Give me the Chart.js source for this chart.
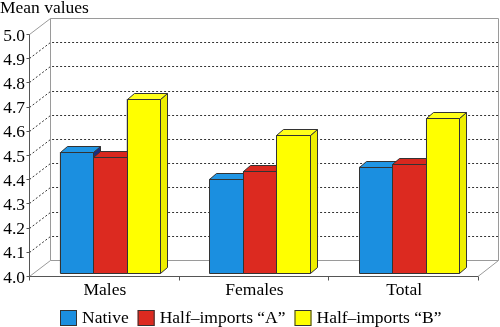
<!DOCTYPE html>
<html>
<head>
<meta charset="utf-8">
<script src="https://cdn.jsdelivr.net/npm/chart.js@4.4.0/dist/chart.umd.min.js"></script>
<style>
  html, body { margin: 0; padding: 0; background: #fff; }
  #wrap { width: 500px; height: 327px; }
</style>
</head>
<body>
<div id="wrap"><canvas id="chart" width="500" height="327"></canvas></div>
<script>
// data
const categories = ['Males', 'Females', 'Total'];
const seriesNames = ['Native', 'Half–imports “A”', 'Half–imports “B”'];
const nativeValues = [4.50, 4.39, 4.44];
const halfImportsA = [4.48, 4.42, 4.45];
const halfImportsB = [4.72, 4.57, 4.64];
const yTicks = [4.0, 4.1, 4.2, 4.3, 4.4, 4.5, 4.6, 4.7, 4.8, 4.9, 5.0];

const FONT = "'Liberation Serif', 'Times New Roman', serif";
const FRONT = { dx: -6, dy: 3 };   // front edge of the box, relative to bar plane
const BACK = { dx: 15, dy: -13 };  // back wall, relative to bar plane
const DEPTH = { dx: 7, dy: -6 };   // bar depth

const faces = [
    { front: '#1b8fe0', top: '#2196e4', side: '#1b2d80' },
    { front: '#dc2a20', top: '#d8281e', side: '#9e1a14' },
    { front: '#ffff00', top: '#ffff1a', side: '#eeee00' }
];

// walls, floor and grid of the fake 3d box
const box3d = {
    id: 'box3d',
    beforeDatasetsDraw(chart) {
        const { ctx, chartArea: a, scales: { x, y } } = chart;
        const y0 = y.getPixelForValue(yTicks[0]);
        const y1 = y.getPixelForValue(yTicks[yTicks.length - 1]);
        ctx.save();
        ctx.lineWidth = 1;

        // dotted gridlines (back wall + left wall)
        ctx.strokeStyle = '#333';
        ctx.setLineDash([2, 2]);
        yTicks.slice(1, -1).forEach(v => {
            const py = Math.round(y.getPixelForValue(v)) + 0.5;
            ctx.beginPath();
            ctx.moveTo(a.left + FRONT.dx + 0.5, py + FRONT.dy);
            ctx.lineTo(a.left + BACK.dx + 0.5, py + BACK.dy);
            ctx.lineTo(a.right + BACK.dx, py + BACK.dy);
            ctx.stroke();
        });
        ctx.setLineDash([]);

        // back wall + floor outlines
        ctx.strokeStyle = '#9a9a9a';
        const bl = a.left + BACK.dx + 0.5, br = a.right + BACK.dx - 0.5;
        const bt = Math.round(y1) + BACK.dy + 0.5, bb = Math.round(y0) + BACK.dy + 0.5;
        const fl = a.left + FRONT.dx + 0.5, fr = a.right + FRONT.dx;
        const ft = Math.round(y1) + FRONT.dy + 0.5, fb = Math.round(y0) + FRONT.dy + 0.5;
        ctx.beginPath();
        ctx.moveTo(fl, ft); ctx.lineTo(bl, bt); ctx.lineTo(br, bt); ctx.lineTo(br, bb);
        ctx.moveTo(bl, bt); ctx.lineTo(bl, bb); ctx.lineTo(br, bb); ctx.lineTo(fr, fb);
        ctx.moveTo(fl, fb); ctx.lineTo(bl, bb);
        ctx.stroke();

        // front axis lines
        ctx.strokeStyle = '#555';
        ctx.beginPath();
        ctx.moveTo(fl, ft); ctx.lineTo(fl, fb); ctx.lineTo(fr, fb);
        yTicks.forEach(v => {
            const py = Math.round(y.getPixelForValue(v)) + FRONT.dy + 0.5;
            ctx.moveTo(fl - 3, py); ctx.lineTo(fl, py);
        });
        const w = (a.right - a.left) / categories.length;
        for (let k = 0; k <= categories.length; k++) {
            const px = Math.round(a.left + k * w + FRONT.dx) + 0.5;
            ctx.moveTo(px, fb); ctx.lineTo(px, fb + 4);
        }
        ctx.stroke();
        ctx.restore();
    },
    afterDatasetsDraw(chart) {
        const { ctx } = chart;
        ctx.save();
        ctx.lineWidth = 1;
        ctx.strokeStyle = '#333';
        ctx.lineJoin = 'round';
        const poly = (pts, fill) => {
            ctx.beginPath();
            ctx.moveTo(pts[0][0], pts[0][1]);
            pts.slice(1).forEach(p => ctx.lineTo(p[0], p[1]));
            ctx.closePath();
            ctx.fillStyle = fill;
            ctx.fill();
            ctx.stroke();
        };
        categories.forEach((c, i) => {
            chart.data.datasets.forEach((ds, j) => {
                const bar = chart.getDatasetMeta(j).data[i];
                const l = Math.round(bar.x - bar.width / 2) + 0.5;
                const r = Math.round(bar.x + bar.width / 2) + 0.5;
                const t = Math.round(bar.y) + 0.5;
                const b = Math.round(bar.base) + 0.5;
                const f = faces[j];
                poly([[r, t], [r + DEPTH.dx, t + DEPTH.dy], [r + DEPTH.dx, b + DEPTH.dy], [r, b]], f.side);
                poly([[l, t], [l + DEPTH.dx, t + DEPTH.dy], [r + DEPTH.dx, t + DEPTH.dy], [r, t]], f.top);
                poly([[l, t], [r, t], [r, b], [l, b]], f.front);
            });
        });
        ctx.restore();
    },
    afterDraw(chart) {
        // legend along the bottom
        const { ctx } = chart;
        ctx.save();
        ctx.font = '17.5px ' + FONT;
        ctx.textBaseline = 'middle';
        ctx.textAlign = 'left';
        let px = 60;
        chart.data.datasets.forEach((ds, j) => {
            ctx.fillStyle = faces[j].front;
            ctx.fillRect(px, 310, 17, 16);
            ctx.strokeStyle = '#333';
            ctx.lineWidth = 1;
            ctx.strokeRect(px + 0.5, 310.5, 16, 15);
            ctx.fillStyle = '#000';
            ctx.fillText(ds.label, px + 22, 318.5);
            px += 22 + ctx.measureText(ds.label).width + 9;
        });
        ctx.restore();
    }
};

const seriesValues = [nativeValues, halfImportsA, halfImportsB];

new Chart(document.getElementById('chart'), {
    type: 'bar',
    data: {
        labels: categories,
        datasets: seriesNames.map((name, j) => ({
            label: name,
            data: seriesValues[j],
            base: yTicks[0],
            backgroundColor: faces[j].front,
            borderColor: '#333',
            borderWidth: 1,
            categoryPercentage: 0.67,
            barPercentage: 1.0
        }))
    },
    options: {
        responsive: false,
        animation: false,
        devicePixelRatio: 1,
        layout: { padding: { left: 0, right: 16, top: 0, bottom: 0 } },
        plugins: {
            legend: { display: false },
            tooltip: { enabled: false },
            title: {
                display: true,
                text: 'Mean values',
                align: 'start',
                color: '#000',
                font: { family: FONT, size: 17.5, weight: 'normal', lineHeight: 1 },
                padding: { top: 0, bottom: 13.5 }
            }
        },
        scales: {
            x: {
                grid: { display: false, drawTicks: false },
                border: { display: false },
                ticks: {
                    color: '#000',
                    font: { family: FONT, size: 17.5, lineHeight: 1.2 },
                    padding: 7,
                    labelOffset: -5
                },
                afterFit(scale) { scale.height = 54; }
            },
            y: {
                min: 4.0,
                max: 5.0,
                grid: { display: false, drawTicks: false },
                border: { display: false },
                ticks: {
                    color: '#000',
                    font: { family: FONT, size: 17.5 },
                    padding: 10,
                    labelOffset: 5,
                    callback: v => Number(v).toFixed(1)
                },
                afterBuildTicks(scale) { scale.ticks = yTicks.map(v => ({ value: v })); },
                afterFit(scale) { scale.width = 35; }
            }
        }
    },
    plugins: [box3d]
});
</script>
</body>
</html>
